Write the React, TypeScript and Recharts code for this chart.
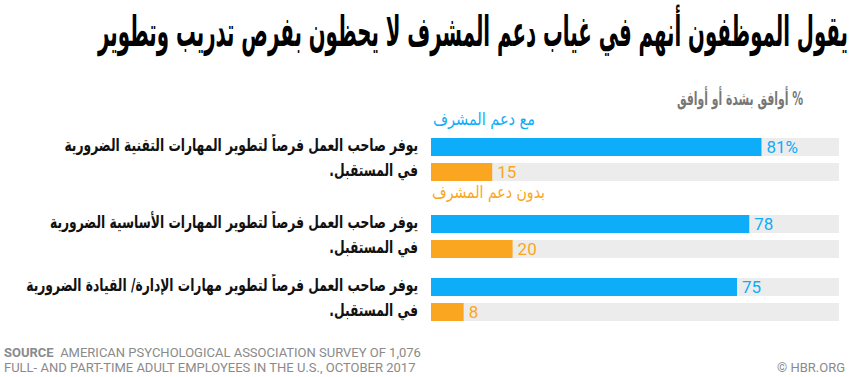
import React from 'react';
import { BarChart, Bar, XAxis, YAxis, LabelList } from 'recharts';

const title = 'يقول الموظفون أنهم في غياب دعم المشرف لا يحظون بفرص تدريب وتطوير';
const subtitle = '% أوافق بشدة أو أوافق';
const seriesNames = ['مع دعم المشرف', 'بدون دعم المشرف'];
const categoryLines = [
  ['يوفر صاحب العمل فرصاً لتطوير المهارات التقنية الضرورية', 'في المستقبل.'],
  ['يوفر صاحب العمل فرصاً لتطوير المهارات الأساسية الضرورية', 'في المستقبل.'],
  ['يوفر صاحب العمل فرصاً لتطوير مهارات الإدارة/ القيادة الضرورية', 'في المستقبل.'],
];
const withSupport = [81, 78, 75];
const withoutSupport = [15, 20, 8];
const sourceLine1 = 'AMERICAN PSYCHOLOGICAL ASSOCIATION SURVEY OF 1,076';
const sourceLine2 = 'FULL- AND PART-TIME ADULT EMPLOYEES IN THE U.S., OCTOBER 2017';

const BLUE = '#0dadf9';
const ORANGE = '#fba620';
const TRACK = '#ececec';
const AR_FONT = '"DejaVu Sans Condensed", "DejaVu Sans", sans-serif';
const rowTops = [134, 211, 274];
const LABEL_RIGHT = 418;
const LABEL_SCALE = 0.78;

const makeTick = (idx: number) => (props: any) => {
  const { y } = props;
  const lines = categoryLines[idx];
  return (
    <g transform={`translate(${LABEL_RIGHT},0) scale(${LABEL_SCALE},1)`}>
      <text x={0} y={y - 14} direction="rtl" textAnchor="start" dominantBaseline="central"
        fontFamily={AR_FONT} fontWeight={700} fontSize={17.5} fill="#111">{lines[0]}</text>
      <text x={0} y={y + 11} direction="rtl" textAnchor="start" dominantBaseline="central"
        fontFamily={AR_FONT} fontWeight={700} fontSize={17.5} fill="#111">{lines[1]}</text>
    </g>
  );
};

function Row({ idx }: { idx: number }) {
  const data = [{ name: 'c' + idx, with: withSupport[idx], without: withoutSupport[idx] }];
  return (
    <div style={{ position: 'absolute', left: 0, top: rowTops[idx] }}>
      <BarChart width={850} height={50} data={data} layout="vertical"
        margin={{ top: 0, right: 11, bottom: 0, left: 0 }} barGap={7} barCategoryGap={0}>
        <XAxis type="number" domain={[0, 100]} hide />
        <YAxis type="category" dataKey="name" width={431} axisLine={false} tickLine={false}
          tick={makeTick(idx)} interval={0} />
        <Bar dataKey="with" fill={BLUE} barSize={18} background={{ fill: TRACK }} isAnimationActive={false}>
          <LabelList dataKey="with" position="right" offset={5} fill={BLUE} fontSize={17}
            fontFamily="Roboto, sans-serif"
            formatter={(v: any) => (idx === 0 ? `${v}%` : `${v}`)} />
        </Bar>
        <Bar dataKey="without" fill={ORANGE} barSize={18} background={{ fill: TRACK }} isAnimationActive={false}>
          <LabelList dataKey="without" position="right" offset={5} fill={ORANGE} fontSize={17}
            fontFamily="Roboto, sans-serif" />
        </Bar>
      </BarChart>
    </div>
  );
}

export default function App() {
  return (
    <div style={{ position: 'absolute', left: 0, top: 0, width: 850, height: 377, background: '#fff', overflow: 'hidden' }}>
      <svg width={850} height={130} style={{ position: 'absolute', left: 0, top: 0 }}>
        <text x={848} y={46} direction="rtl" textAnchor="start" fontFamily={AR_FONT} fontWeight={700}
          fontSize={42} fill="#000" textLength={750} lengthAdjust="spacingAndGlyphs">{title}</text>
        <text x={803} y={105} direction="rtl" textAnchor="start" fontFamily={AR_FONT} fontWeight={700}
          fontSize={19} fill="#777" textLength={126} lengthAdjust="spacingAndGlyphs">{subtitle}</text>
        <text x={535} y={125} direction="rtl" textAnchor="start" fontFamily={AR_FONT} fontWeight={400}
          fontSize={17} fill={BLUE} textLength={102} lengthAdjust="spacingAndGlyphs">{seriesNames[0]}</text>
      </svg>
      <svg width={850} height={30} style={{ position: 'absolute', left: 0, top: 180 }}>
        <text x={545} y={18} direction="rtl" textAnchor="start" fontFamily={AR_FONT} fontWeight={400}
          fontSize={17} fill={ORANGE} textLength={113} lengthAdjust="spacingAndGlyphs">{seriesNames[1]}</text>
      </svg>
      {[0, 1, 2].map((i) => <Row key={i} idx={i} />)}
      <div style={{ position: 'absolute', left: 4, top: 345, fontFamily: 'Roboto, sans-serif', fontSize: 13, color: '#8a8a8a', lineHeight: '15px', whiteSpace: 'nowrap' }}>
        <div><span style={{ fontWeight: 700 }}>SOURCE</span>&nbsp;&nbsp;{sourceLine1}</div>
        <div>{sourceLine2}</div>
      </div>
      <div style={{ position: 'absolute', right: 5, top: 360, fontFamily: 'Roboto, sans-serif', fontSize: 13, color: '#8a8a8a', lineHeight: '15px', whiteSpace: 'nowrap' }}>
        © HBR.ORG
      </div>
    </div>
  );
}
